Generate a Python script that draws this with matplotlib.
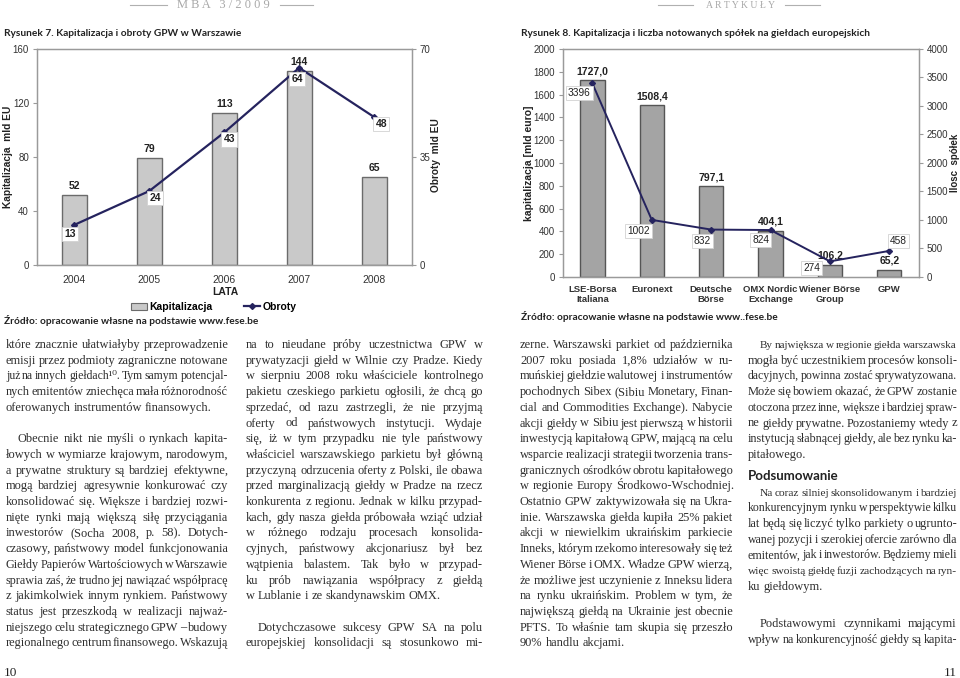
import matplotlib
matplotlib.use("Agg")
import matplotlib.pyplot as plt
from matplotlib.patches import Patch
from matplotlib.lines import Line2D

W, H = 960, 678

# Rysunek 7 - GPW
years = ['2004', '2005', '2006', '2007', '2008']
kapitalizacja = [52, 79, 113, 144, 65]
obroty = [13, 24, 43, 64, 48]

# Rysunek 8 - europejskie gieldy
gieldy = ['LSE-Borsa\nItaliana', 'Euronext', 'Deutsche\nBörse',
          'OMX Nordic\nExchange', 'Wiener Börse\nGroup', 'GPW']
kap_mld = [1727.0, 1508.4, 797.1, 404.1, 106.2, 65.2]
liczba_spolek = [3396, 1002, 832, 824, 274, 458]

# label offsets in pixels (dx, dy down)
off7 = [(-4, 9), (6, 7), (5, 7), (-2, 11), (7, 7)]
off8 = [(-13, 10), (-13, 11), (-9, 11), (-10, 10), (-18, 7), (9, -10)]

# text columns (line breaks as printed)
col1_p1 = ["które znacznie ułatwiałyby przeprowadzenie",
           "emisji przez podmioty zagraniczne notowane",
           "już na innych giełdach¹⁰. Tym samym potencjal-",
           "nych emitentów zniechęca mała różnorodność",
           "oferowanych instrumentów finansowych."]
col1_p2 = ["Obecnie nikt nie myśli o rynkach kapita-",
           "łowych w wymiarze krajowym, narodowym,",
           "a prywatne struktury są bardziej efektywne,",
           "mogą bardziej agresywnie konkurować czy",
           "konsolidować się. Większe i bardziej rozwi-",
           "nięte rynki mają większą siłę przyciągania",
           "inwestorów (Socha 2008, p. 58). Dotych-",
           "czasowy, państwowy model funkcjonowania",
           "Giełdy Papierów Wartościowych w Warszawie",
           "sprawia zaś, że trudno jej nawiązać współpracę",
           "z jakimkolwiek innym rynkiem. Państwowy",
           "status jest przeszkodą w realizacji najważ-",
           "niejszego celu strategicznego GPW – budowy",
           "regionalnego centrum finansowego. Wskazują"]
col2_p1 = ["na to nieudane próby uczestnictwa GPW w",
           "prywatyzacji giełd w Wilnie czy Pradze. Kiedy",
           "w sierpniu 2008 roku właściciele kontrolnego",
           "pakietu czeskiego parkietu ogłosili, że chcą go",
           "sprzedać, od razu zastrzegli, że nie przyjmą",
           "oferty od państwowych instytucji. Wydaje",
           "się, iż w tym przypadku nie tyle państwowy",
           "właściciel warszawskiego parkietu był główną",
           "przyczyną odrzucenia oferty z Polski, ile obawa",
           "przed marginalizacją giełdy w Pradze na rzecz",
           "konkurenta z regionu. Jednak w kilku przypad-",
           "kach, gdy nasza giełda próbowała wziąć udział",
           "w różnego rodzaju procesach konsolida-",
           "cyjnych, państwowy akcjonariusz był bez",
           "wątpienia balastem. Tak było w przypad-",
           "ku prób nawiązania współpracy z giełdą",
           "w Lublanie i ze skandynawskim OMX."]
col2_p2 = ["Dotychczasowe sukcesy GPW SA na polu",
           "europejskiej konsolidacji są stosunkowo mi-"]
col3_p1 = ["zerne. Warszawski parkiet od października",
           "2007 roku posiada 1,8% udziałów w ru-",
           "muńskiej giełdzie walutowej i instrumentów",
           "pochodnych Sibex (Sibiu Monetary, Finan-",
           "cial and Commodities Exchange). Nabycie",
           "akcji giełdy w Sibiu jest pierwszą w historii",
           "inwestycją kapitałową GPW, mającą na celu",
           "wsparcie realizacji strategii tworzenia trans-",
           "granicznych ośrodków obrotu kapitałowego",
           "w regionie Europy Środkowo-Wschodniej.",
           "Ostatnio GPW zaktywizowała się na Ukra-",
           "inie. Warszawska giełda kupiła 25% pakiet",
           "akcji w niewielkim ukraińskim parkiecie",
           "Inneks, którym rzekomo interesowały się też",
           "Wiener Börse i OMX. Władze GPW wierzą,",
           "że możliwe jest uczynienie z Inneksu lidera",
           "na rynku ukraińskim. Problem w tym, że",
           "największą giełdą na Ukrainie jest obecnie",
           "PFTS. To właśnie tam skupia się przeszło",
           "90% handlu akcjami."]
col4_p1 = ["By największa w regionie giełda warszawska",
           "mogła być uczestnikiem procesów konsoli-",
           "dacyjnych, powinna zostać sprywatyzowana.",
           "Może się bowiem okazać, że GPW zostanie",
           "otoczona przez inne, większe i bardziej spraw-",
           "ne giełdy prywatne. Pozostaniemy wtedy z",
           "instytucją słabnącej giełdy, ale bez rynku ka-",
           "pitałowego."]
col4_p2 = ["Na coraz silniej skonsolidowanym i bardziej",
           "konkurencyjnym rynku w perspektywie kilku",
           "lat będą się liczyć tylko parkiety o ugrunto-",
           "wanej pozycji i szerokiej ofercie zarówno dla",
           "emitentów, jak i inwestorów. Będziemy mieli",
           "więc swoistą giełdę fuzji zachodzących na ryn-",
           "ku giełdowym."]
col4_p3 = ["Podstawowymi czynnikami mającymi",
           "wpływ na konkurencyjność giełdy są kapita-"]

SANS = ['Liberation Sans', 'DejaVu Sans']
GILL = ['Lato', 'DejaVu Sans']
SERIF = ['Liberation Serif', 'DejaVu Serif']
LINE_C = '#25235e'
SPINE_C = '#9a9a9a'
TICK_C = '#333333'


def rect(l, t, r, b):
    return [l / W, 1 - b / H, (r - l) / W, (b - t) / H]


def fx(x):
    return x / W


def fy(y):
    return 1 - y / H


def px(v):
    return v * 0.72  # pixels -> points at dpi 100


fig = plt.figure(figsize=(W / 100, H / 100), dpi=100, facecolor='white')

# ---------------- header ----------------
for x0, x1 in [(130, 167), (280, 313), (658, 693), (785, 820)]:
    fig.add_artist(Line2D([fx(x0), fx(x1)], [fy(5), fy(5)], color='#b0b0b0', lw=0.8))
fig.text(fx(223), fy(5), 'M B A   3 / 2 0 0 9', family=SERIF, fontsize=9,
         color='#a8a8a8', ha='center', va='center')
fig.text(fx(740), fy(5), 'A R T Y K U Ł Y', family=SERIF, fontsize=7,
         color='#a8a8a8', ha='center', va='center')


def style_axes(ax):
    for sp in ax.spines.values():
        sp.set_color(SPINE_C)
        sp.set_linewidth(0.9)
    ax.tick_params(axis='y', length=3, color=SPINE_C, labelsize=7,
                   labelcolor=TICK_C, pad=2.5)
    ax.tick_params(axis='x', length=0, labelsize=7, labelcolor=TICK_C)
    for lab in ax.get_yticklabels() + ax.get_xticklabels():
        lab.set_family(SANS)


box = dict(boxstyle='square,pad=0.2', fc='white', ec='#d2d2d2', lw=0.6)

# ---------------- Rysunek 7 ----------------
fig.text(fx(4), fy(34), 'Rysunek 7. Kapitalizacja i obroty GPW w Warszawie',
         family=GILL, fontweight='bold', fontsize=7.3, color='#222', va='center')

ax1 = fig.add_axes(rect(36.7, 49.3, 411.7, 265))
x7 = list(range(len(years)))
ax1.bar(x7, kapitalizacja, width=1 / 3, color='#c9c9c9', edgecolor='#6b6b6b',
        linewidth=1.0, zorder=2)
ax1.set_xlim(-0.5, len(years) - 0.5)
ax1.set_ylim(0, 160)
ax1.set_yticks([0, 40, 80, 120, 160])
ax1.set_xticks(x7)
ax1.set_xticklabels(years)
ax1.tick_params(axis='x', pad=7)
for xi, v in zip(x7, kapitalizacja):
    ax1.annotate(str(v), (xi, v), xytext=(0, px(9)), textcoords='offset points',
                 ha='center', va='center', fontsize=7.5, fontweight='bold',
                 family=SANS, color='#222')

ax2 = ax1.twinx()
ax2.set_ylim(0, 70)
ax2.set_yticks([0, 35, 70])
ax2.plot(x7, obroty, color=LINE_C, lw=1.6, marker='D', ms=3, zorder=3)
for xi, v, (dx, dy) in zip(x7, obroty, off7):
    ax2.annotate(str(v), (xi, v), xytext=(px(dx), -px(dy)), textcoords='offset points',
                 ha='center', va='center', fontsize=7.5, fontweight='bold',
                 family=SANS, color='#222', bbox=box, zorder=4)
style_axes(ax1)
style_axes(ax2)
for lab in ax1.get_xticklabels():
    lab.set_fontsize(7.5)

fig.text(fx(8), fy(157), 'Kapitalizacja  mld EU', rotation=90, family=SANS,
         fontweight='bold', fontsize=7.3, color='#222', ha='center', va='center')
fig.text(fx(436), fy(155), 'Obroty  mld EU', rotation=90, family=SANS,
         fontweight='bold', fontsize=7.3, color='#222', ha='center', va='center')
fig.text(fx(225), fy(292), 'LATA', family=SANS, fontweight='bold', fontsize=7.5,
         color='#222', ha='center', va='center')

handles = [Patch(fc='#c9c9c9', ec='#6b6b6b', lw=0.8),
           Line2D([], [], color=LINE_C, lw=1.6, marker='D', ms=3)]
ax1.legend(handles, ['Kapitalizacja', 'Obroty'], loc='center',
           bbox_to_anchor=((214 - 36.7) / 375, (265 - 307) / 215.7),
           ncol=2, frameon=False, handlelength=1.5, handletextpad=0.3,
           columnspacing=3.0, prop=dict(family=SANS, weight='bold', size=7.5))

fig.text(fx(4), fy(321), 'Źródło: opracowanie własne na podstawie www.fese.be',
         family=GILL, fontweight='bold', fontsize=7.3, color='#222', va='center')

# ---------------- Rysunek 8 ----------------
fig.text(fx(521), fy(33),
         'Rysunek 8. Kapitalizacja i liczba notowanych spółek na giełdach europejskich',
         family=GILL, fontweight='bold', fontsize=7.3, color='#222', va='center')

ax3 = fig.add_axes(rect(562.7, 49, 919, 277))
x8 = list(range(len(gieldy)))
ax3.bar(x8, kap_mld, width=0.41, color='#a4a4a4', edgecolor='#555555',
        linewidth=1.0, zorder=2)
ax3.set_xlim(-0.5, len(gieldy) - 0.5)
ax3.set_ylim(0, 2000)
ax3.set_yticks(range(0, 2001, 200))
ax3.set_xticks(x8)
ax3.set_xticklabels(gieldy, linespacing=1.1)
ax3.tick_params(axis='x', pad=6)
for xi, v in zip(x8, kap_mld):
    ax3.annotate(f'{v:.1f}'.replace('.', ','), (xi, v), xytext=(0, px(9)),
                 textcoords='offset points', ha='center', va='center',
                 fontsize=7.5, fontweight='bold', family=SANS, color='#222')

ax4 = ax3.twinx()
ax4.set_ylim(0, 4000)
ax4.set_yticks(range(0, 4001, 500))
ax4.plot(x8, liczba_spolek, color=LINE_C, lw=1.4, marker='D', ms=3, zorder=3)
for xi, v, (dx, dy) in zip(x8, liczba_spolek, off8):
    ax4.annotate(str(v), (xi, v), xytext=(px(dx), -px(dy)), textcoords='offset points',
                 ha='center', va='center', fontsize=7.3, family=SANS,
                 color='#222', bbox=box, zorder=4)
style_axes(ax3)
style_axes(ax4)
for lab in ax3.get_xticklabels():
    lab.set_fontweight('bold')
    lab.set_fontsize(6.8)

fig.text(fx(529), fy(163), 'kapitalizacja [mld euro]', rotation=90, family=SANS,
         fontweight='bold', fontsize=7.5, color='#222', ha='center', va='center')
fig.text(fx(955), fy(163), 'Ilosc  spółek', rotation=90, family=SANS,
         fontweight='bold', fontsize=7, color='#222', ha='center', va='center')
fig.text(fx(521), fy(316), 'Źródło: opracowanie własne na podstawie www..fese.be',
         family=GILL, fontweight='bold', fontsize=7.3, color='#222', va='center')

# ---------------- body text (justified) ----------------
BODY = 8.9          # target size; a tight line is shrunk just enough to fit
MIN_SPACE = 0.55    # smallest word gap, as share of a normal space
BODY_C = '#2e2e2e'
LEAD = 15.7
IND = 12
Y0 = 348
C1, C2, C3, C4 = (6, 228), (246, 483), (520, 733), (748, 957)

renderer = fig.canvas.get_renderer()
meas = fig.text(0, 0, '', family=SERIF, fontsize=10)
_cache = {}


def tw(s):
    # width in pixels at font size 10
    if s not in _cache:
        meas.set_text(s)
        _cache[s] = meas.get_window_extent(renderer).width
    return _cache[s]


SPACE10 = tw('a a') - tw('aa')


def set_lines(x0, x1, y, lines, indent=0, last_left=True):
    for i, line in enumerate(lines):
        words = line.split(' ')
        left = x0 + (indent if i == 0 else 0)
        avail = x1 - left
        nat = sum(tw(w) for w in words) + MIN_SPACE * SPACE10 * (len(words) - 1)
        size = min(BODY, 10.0 * avail / nat)
        k = size / 10.0
        ws = [tw(w) * k for w in words]
        last = (i == len(lines) - 1) and last_left
        if len(words) > 1 and not last:
            gap = (avail - sum(ws)) / (len(words) - 1)
        else:
            gap = SPACE10 * k
        xx = left
        for w, wd in zip(words, ws):
            fig.text(fx(xx), fy(y), w, family=SERIF, fontsize=size,
                     color=BODY_C, ha='left', va='baseline')
            xx += wd + gap
        y += LEAD
    return y


# column 1
y = set_lines(*C1, Y0, col1_p1)
set_lines(*C1, y + LEAD, col1_p2, indent=IND, last_left=False)
# column 2
y = set_lines(*C2, Y0, col2_p1)
set_lines(*C2, y + LEAD, col2_p2, indent=IND, last_left=False)
# column 3
set_lines(*C3, Y0, col3_p1)
# column 4
y = set_lines(*C4, Y0, col4_p1, indent=IND)
y += LEAD * 0.4
fig.text(fx(C4[0]), fy(y), 'Podsumowanie', family=GILL, fontweight='bold',
         fontsize=9.5, color='#222', ha='left', va='baseline')
y += LEAD
y = set_lines(*C4, y, col4_p2, indent=IND)
set_lines(*C4, y + LEAD * 1.4, col4_p3, indent=IND, last_left=False)

meas.remove()

# page numbers
fig.text(fx(4), fy(676), '10', family=SERIF, fontsize=9.5, color='#222',
         ha='left', va='baseline')
fig.text(fx(957), fy(676), '11', family=SERIF, fontsize=9.5, color='#222',
         ha='right', va='baseline')

fig.savefig('out.png', dpi=100, facecolor='white')
